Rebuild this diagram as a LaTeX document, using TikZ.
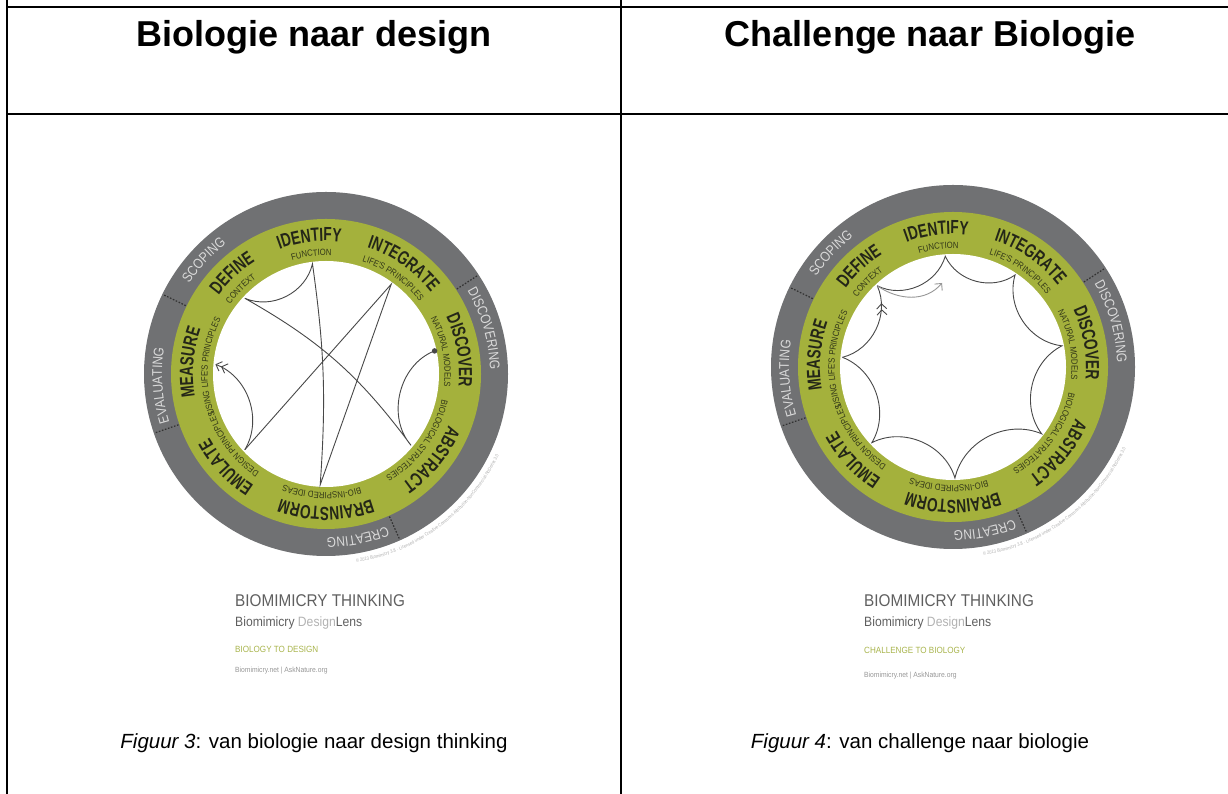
\documentclass[tikz,border=0pt]{standalone}
\usepackage{fontspec}
\setmainfont{Liberation Sans}
\newfontfamily\wheelfont[FakeStretch=0.72]{Liberation Sans}
\newfontfamily\subfont[FakeStretch=0.86]{Liberation Sans}
\newfontfamily\ringfont[FakeStretch=0.85]{Liberation Sans}
\newfontfamily\logofont[FakeStretch=0.9]{Liberation Sans}
\usetikzlibrary{arrows.meta,decorations.text,decorations.markings}

\definecolor{ringgray}{RGB}{112,113,115}
\definecolor{wheelgreen}{RGB}{164,177,60}
\definecolor{labeldark}{RGB}{36,38,24}
\definecolor{subdark}{RGB}{50,55,24}
\definecolor{ringtext}{RGB}{218,218,218}
\definecolor{dividergray}{RGB}{50,50,50}
\definecolor{pathgray}{RGB}{72,72,72}
\definecolor{lightpath}{RGB}{150,150,150}
\definecolor{copygray}{RGB}{175,175,175}
\definecolor{logogray}{RGB}{95,95,95}
\definecolor{logolight}{RGB}{178,178,178}
\definecolor{logogreen}{RGB}{168,180,76}
\definecolor{linkgray}{RGB}{150,150,150}

% text set along a clockwise arc (letters point outwards)
\newcommand\arclabel[6]{%
  \path[decorate,decoration={text along path,text align=center,text color=#5,
      text={|#4|#6}}]
    ({#2+#3}:#1) arc[start angle={#2+#3},end angle={#2-#3},radius=#1];}
\newcommand\mainlabel[3]{\arclabel{133}{#1}{#2}{\wheelfont\bfseries\fontsize{19}{19}\selectfont}{labeldark}{#3}}
\newcommand\sublabel[3]{\arclabel{118.5}{#1}{#2}{\subfont\fontsize{9}{9}\selectfont}{subdark}{#3}}
\newcommand\phaselabel[3]{\arclabel{164}{#1}{#2}{\ringfont\fontsize{14}{14}\selectfont}{ringtext}{#3}}

% the Biomimicry Thinking wheel, centred on the current origin
\newcommand\drawwheel{%
  \fill[ringgray] (0,0) circle[radius=182];
  \fill[wheelgreen] (0,0) circle[radius=155];
  \fill[white] (0,0) circle[radius=113];
  \foreach \ang in {154,33,-66,199} {\draw[divider] (\ang:156) -- (\ang:181);}
  \phaselabel{137}{30}{SCOPING}
  \phaselabel{16}{30}{DISCOVERING}
  \phaselabel{-79}{30}{CREATING}
  \phaselabel{184}{30}{EVALUATING}
  \mainlabel{97}{30}{IDENTIFY}
  \sublabel{97}{30}{FUNCTION}
  \mainlabel{55}{30}{INTEGRATE}
  \sublabel{55}{35}{LIFE'S PRINCIPLES}
  \mainlabel{10}{30}{DISCOVER}
  \sublabel{11}{35}{NATURAL MODELS}
  \mainlabel{-39}{30}{ABSTRACT}
  \sublabel{-36}{40}{BIOLOGICAL STRATEGIES}
  \mainlabel{-90}{35}{BRAINSTORM}
  \sublabel{-92}{35}{BIO-INSPIRED IDEAS}
  \mainlabel{-137}{30}{EMULATE}
  \sublabel{-143}{35}{DESIGN PRINCIPLES}
  \mainlabel{175}{30}{MEASURE}
  \sublabel{176}{40}{USING LIFE'S PRINCIPLES}
  \mainlabel{133}{30}{DEFINE}
  \sublabel{135}{25}{CONTEXT}
  \path[decorate,decoration={text along path,text align=center,text color=copygray,
      text={|\subfont\fontsize{4.8}{4.8}\selectfont|© 2013 Biomimicry 3.8 · Licensed under Creative Commons Attribution-NonCommercial-NoDerivs 3.0}}]
    (-100:191) arc[start angle=-100,end angle=-6,radius=191];
}

\tikzset{
  tablerule/.style={line width=2pt,black},
  head/.style={font=\fontsize{36}{36}\selectfont\bfseries,inner sep=0,anchor=base},
  capt/.style={font=\fontsize{20.5}{20.5}\selectfont,inner sep=0,anchor=base},
  divider/.style={dividergray,line width=1.2pt,dash pattern=on 1.6pt off 1.6pt},
  pathline/.style={draw=pathgray,line width=0.9pt},
  faintpath/.style={draw=lightpath,line width=0.9pt},
  startdot/.style={circle,fill=pathgray,inner sep=0,minimum size=5.5},
  logo1/.style={font=\logofont\fontsize{17}{17}\selectfont,text=logogray,inner sep=0,anchor=base west},
  logo2/.style={font=\logofont\fontsize{13.5}{13.5}\selectfont,text=logogray,inner sep=0,anchor=base west},
  logo3/.style={font=\logofont\fontsize{9}{9}\selectfont,text=logogreen,inner sep=0,anchor=base west},
  logo4/.style={font=\logofont\fontsize{7.5}{7.5}\selectfont,text=linkgray,inner sep=0,anchor=base west},
  barbs/.style={-{Straight Barb[length=5pt,width=10pt] Straight Barb[length=5pt,width=10pt]}},
}

\begin{document}
\begin{tikzpicture}[x=1pt,y=1pt]
\useasboundingbox (0,0) rectangle (1228,794);

% table frame
\draw[tablerule] (7,787) -- (1228,787);
\draw[tablerule] (7,794) -- (7,0);
\draw[tablerule] (621,794) -- (621,0);
\draw[tablerule] (7,680) -- (1228,680);

% headings and captions
\node[head] (headleft) at (314,747) {Biologie naar design};
\node[head] (headright) at (930,747) {Challenge naar Biologie};
\node[capt] (capleft) at (314,45) {\textit{Figuur 3}: van biologie naar design thinking};
\node[capt] (capright) at (920,45) {\textit{Figuur 4}: van challenge naar biologie};

% left wheel: biology to design
\begin{scope}[shift={(326,420)}]
  \drawwheel
  \coordinate (Ldisc) at (12:111);
  \coordinate (Labs) at (-40:111);
  \coordinate (Ldef) at (137:111);
  \coordinate (Lid) at (97:111);
  \coordinate (Lbrain) at (-93:111);
  \coordinate (Lint) at (54:111);
  \coordinate (Lemu) at (-137:111);
  \coordinate (Lmeas) at (175:111);
  \node[startdot] (Lstart) at (Ldisc) {};
  \draw[pathline] (Lstart.center) to[bend right=55] (Labs)
    to[bend right=12] (Ldef) to[bend right=50] (Lid)
    to[bend left=6] (Lbrain) -- (Lint) -- (Lemu);
  \draw[pathline,barbs] (Lemu) to[bend right=50] (Lmeas);
\end{scope}
\node[logo1] (lt1) at (235,187) {BIOMIMICRY THINKING};
\node[logo2] (lt2) at (235,167) {Biomimicry \textcolor{logolight}{Design}Lens};
\node[logo3] (lt3) at (235,141) {BIOLOGY TO DESIGN};
\node[logo4] (lt4) at (235,121) {Biomimicry.net | AskNature.org};

% right wheel: challenge to biology
\begin{scope}[shift={(953,427)}]
  \drawwheel
  \coordinate (Rdef) at (133:111);
  \coordinate (Rid) at (94:111);
  \coordinate (Rint) at (56:111);
  \coordinate (Rdisc) at (11:111);
  \coordinate (Rabs) at (-37:111);
  \coordinate (Rbrain) at (-89:111);
  \coordinate (Remu) at (-137:111);
  \coordinate (Rmeas) at (175:111);
  \coordinate (Rtip) at (-11,84);
  \draw[pathline] (Rdef) to[bend right=50] (Rid) to[bend right=50] (Rint)
    to[bend right=50] (Rdisc) to[bend right=50] (Rabs) to[bend right=50] (Rbrain)
    to[bend right=50] (Remu) to[bend right=50] (Rmeas);
  \draw[pathline,postaction={decorate},decoration={markings,
      mark=at position 0.8 with {\arrow{Straight Barb[length=5pt,width=10pt] Straight Barb[length=5pt,width=10pt]}}}]
    (Rmeas) to[bend right=50] (Rdef);
  \draw[faintpath,-{Straight Barb[length=5pt,width=10pt]}] (Rdef) to[out=-35,in=-130] (Rtip);
\end{scope}
\node[logo1] (rt1) at (864,187) {BIOMIMICRY THINKING};
\node[logo2] (rt2) at (864,167) {Biomimicry \textcolor{logolight}{Design}Lens};
\node[logo3] (rt3) at (864,140) {CHALLENGE TO BIOLOGY};
\node[logo4] (rt4) at (864,116) {Biomimicry.net | AskNature.org};
\end{tikzpicture}
\end{document}
